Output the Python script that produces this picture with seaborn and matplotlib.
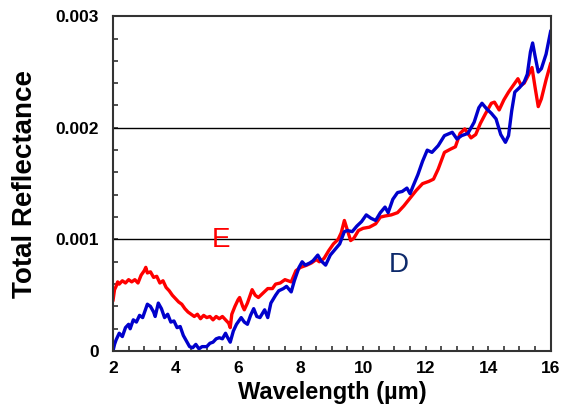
import matplotlib
matplotlib.use("Agg")
import matplotlib.pyplot as plt
from matplotlib.ticker import MultipleLocator, FixedLocator
import seaborn as sns
import pandas as pd

# ---- data ----
wl_E = [2.0, 2.05, 2.1, 2.15, 2.2, 2.3, 2.4, 2.5, 2.6, 2.7, 2.8, 2.9, 3.0, 3.05, 3.1, 3.2, 3.3,
        3.4, 3.5, 3.6, 3.7, 3.8, 3.9, 4.0, 4.1, 4.2, 4.3, 4.4, 4.5, 4.6, 4.7, 4.8, 4.9, 5.0,
        5.1, 5.2, 5.3, 5.4, 5.5, 5.6, 5.7, 5.75, 5.8, 5.9, 6.0, 6.05, 6.15, 6.2, 6.3, 6.45,
        6.55, 6.65, 6.8, 6.95, 7.1, 7.2, 7.35, 7.5, 7.6, 7.7, 7.85, 8.0, 8.2, 8.35, 8.5, 8.6,
        8.75, 8.9, 9.05, 9.2, 9.3, 9.4, 9.5, 9.6, 9.7, 9.85, 10.0, 10.2, 10.4, 10.55, 10.7,
        10.9, 11.1, 11.3, 11.5, 11.7, 11.9, 12.1, 12.25, 12.4, 12.6, 12.8, 12.95, 13.1, 13.25,
        13.35, 13.45, 13.6, 13.75, 13.9, 14.1, 14.2, 14.35, 14.5, 14.65, 14.8, 14.95, 15.05,
        15.15, 15.3, 15.4, 15.5, 15.6, 15.7, 15.85, 16.0]
refl_E = [0.00045, 0.00055, 0.00058, 0.00062, 0.00060, 0.00063, 0.00061, 0.00064, 0.00062,
          0.00064, 0.00061, 0.00068, 0.00072, 0.00075, 0.00070, 0.00071, 0.00066, 0.00067,
          0.00061, 0.00063, 0.00057, 0.00054, 0.00050, 0.00047, 0.00044, 0.00042, 0.00038,
          0.00035, 0.00033, 0.00031, 0.00033, 0.00029, 0.00032, 0.00030, 0.00031, 0.00028,
          0.00031, 0.00029, 0.00031, 0.00028, 0.00025, 0.00021, 0.00033, 0.00040, 0.00046,
          0.00048, 0.00040, 0.00037, 0.00043, 0.00055, 0.00050, 0.00048, 0.00052, 0.00056,
          0.00056, 0.00060, 0.00061, 0.00064, 0.00063, 0.00062, 0.00072, 0.00075, 0.00077,
          0.00079, 0.00082, 0.00080, 0.00083, 0.00090, 0.00096, 0.00100, 0.00106, 0.00117,
          0.00108, 0.00099, 0.00101, 0.00108, 0.00110, 0.00111, 0.00114, 0.00120, 0.00121,
          0.00122, 0.00124, 0.00130, 0.00137, 0.00144, 0.00150, 0.00152, 0.00154, 0.00163,
          0.00178, 0.00181, 0.00183, 0.00195, 0.00199, 0.00195, 0.00191, 0.00194, 0.00204,
          0.00212, 0.00222, 0.00223, 0.00216, 0.00225, 0.00232, 0.00238, 0.00244, 0.00238,
          0.00240, 0.00248, 0.00254, 0.00236, 0.00219, 0.00226, 0.00243, 0.00258]

wl_D = [2.0, 2.05, 2.1, 2.2, 2.3, 2.4, 2.5, 2.55, 2.65, 2.75, 2.85, 2.95, 3.05, 3.1, 3.2, 3.3,
        3.35, 3.45, 3.55, 3.65, 3.75, 3.85, 3.95, 4.05, 4.15, 4.25, 4.35, 4.45, 4.55, 4.65,
        4.75, 4.85, 5.0, 5.1, 5.2, 5.3, 5.4, 5.5, 5.6, 5.65, 5.75, 5.85, 5.95, 6.1, 6.2, 6.3,
        6.4, 6.5, 6.6, 6.7, 6.85, 6.95, 7.05, 7.2, 7.3, 7.45, 7.55, 7.7, 7.8, 7.95, 8.05, 8.15,
        8.3, 8.4, 8.55, 8.65, 8.8, 8.95, 9.1, 9.25, 9.4, 9.5, 9.65, 9.8, 9.95, 10.1, 10.25,
        10.4, 10.55, 10.7, 10.8, 10.95, 11.1, 11.25, 11.4, 11.5, 11.6, 11.75, 11.9, 12.05,
        12.2, 12.4, 12.6, 12.85, 13.0, 13.15, 13.35, 13.55, 13.7, 13.8, 13.95, 14.1, 14.25,
        14.4, 14.55, 14.65, 14.75, 14.85, 15.0, 15.15, 15.25, 15.35, 15.42, 15.5, 15.6, 15.7,
        15.85, 16.0]
refl_D = [0.00000, 0.00006, 0.00010, 0.00016, 0.00013, 0.00021, 0.00024, 0.00020, 0.00028,
          0.00026, 0.00032, 0.00030, 0.00038, 0.00042, 0.00040, 0.00035, 0.00031, 0.00043,
          0.00038, 0.00030, 0.00033, 0.00026, 0.00027, 0.00021, 0.00022, 0.00014, 0.00009,
          0.00004, 0.00003, 0.00006, 0.00002, 0.00004, 0.00004, 0.00007, 0.00008, 0.00011,
          0.00012, 0.00011, 0.00016, 0.00013, 0.00008, 0.00018, 0.00024, 0.00030, 0.00026,
          0.00024, 0.00032, 0.00038, 0.00031, 0.00030, 0.00037, 0.00030, 0.00043, 0.00050,
          0.00054, 0.00056, 0.00058, 0.00053, 0.00063, 0.00075, 0.00080, 0.00077, 0.00079,
          0.00081, 0.00086, 0.00081, 0.00077, 0.00086, 0.00091, 0.00096, 0.00107, 0.00108,
          0.00107, 0.00112, 0.00116, 0.00122, 0.00119, 0.00117, 0.00124, 0.00129, 0.00124,
          0.00136, 0.00142, 0.00143, 0.00146, 0.00141, 0.00148, 0.00158, 0.00170, 0.00180,
          0.00178, 0.00184, 0.00193, 0.00196, 0.00190, 0.00193, 0.00195, 0.00205, 0.00218,
          0.00222, 0.00217, 0.00213, 0.00208, 0.00194, 0.00187, 0.00193, 0.00215, 0.00232,
          0.00236, 0.00241, 0.00248, 0.00268, 0.00276, 0.00264, 0.00250, 0.00253, 0.00266,
          0.00287]

x_ticks = [2, 4, 6, 8, 10, 12, 14, 16]
y_ticks = [0, 0.001, 0.002, 0.003]
y_tick_labels = ["0", "0.001", "0.002", "0.003"]
samples = ["E", "D"]

# ---- build table ----
df = pd.concat([
    pd.DataFrame({"wl": wl_E, "refl": refl_E, "sample": "E"}),
    pd.DataFrame({"wl": wl_D, "refl": refl_D, "sample": "D"}),
], ignore_index=True)

sns.set_style("white", {"xtick.bottom": True, "ytick.left": True})
plt.rcParams["font.family"] = ["Liberation Sans", "DejaVu Sans"]
plt.rcParams["text.color"] = "black"
plt.rcParams["axes.labelcolor"] = "black"
plt.rcParams["xtick.color"] = "black"
plt.rcParams["ytick.color"] = "black"

fig = plt.figure(figsize=(5.62, 4.15), dpi=100)
ax = fig.add_axes([0.201, 0.154, 0.779, 0.807])

sns.lineplot(data=df, x="wl", y="refl", hue="sample", hue_order=samples,
             palette={"E": "#ff0000", "D": "#0000cc"}, estimator=None, sort=False,
             linewidth=2.4, legend=False, ax=ax)

for yv in y_ticks[1:3]:
    ax.axhline(yv, color="black", linewidth=1.0, zorder=1)

ax.set_xlim(2, 16)
ax.set_ylim(0, 0.003)
ax.xaxis.set_major_locator(FixedLocator(x_ticks))
ax.xaxis.set_minor_locator(MultipleLocator(0.5))
ax.set_yticks(y_ticks)
ax.set_yticklabels(y_tick_labels)
ax.yaxis.set_minor_locator(MultipleLocator(0.0002))

ax.tick_params(axis="both", which="both", direction="in", length=3.5, width=1.2,
               color="#333333", labelsize=12.5, labelcolor="black",
               bottom=True, left=True)
ax.tick_params(axis="x", which="major", pad=7)
ax.tick_params(axis="y", which="major", pad=10)
for lab in ax.get_xticklabels() + ax.get_yticklabels():
    lab.set_fontweight("bold")

for sp in ax.spines.values():
    sp.set_color("#333333")
    sp.set_linewidth(1.5)

ax.set_xlabel("Wavelength (µm)", fontsize=17, fontweight="bold", labelpad=4)
ax.set_ylabel("Total Reflectance", fontsize=20, fontweight="bold", labelpad=13)

ax.text(5.45, 0.000994, "E", color="#ff0000", fontsize=20, ha="center", va="center")
ax.text(11.14, 0.00077, "D", color="#0d2a6b", fontsize=20, ha="center", va="center")

fig.savefig("out.png", dpi=100)
